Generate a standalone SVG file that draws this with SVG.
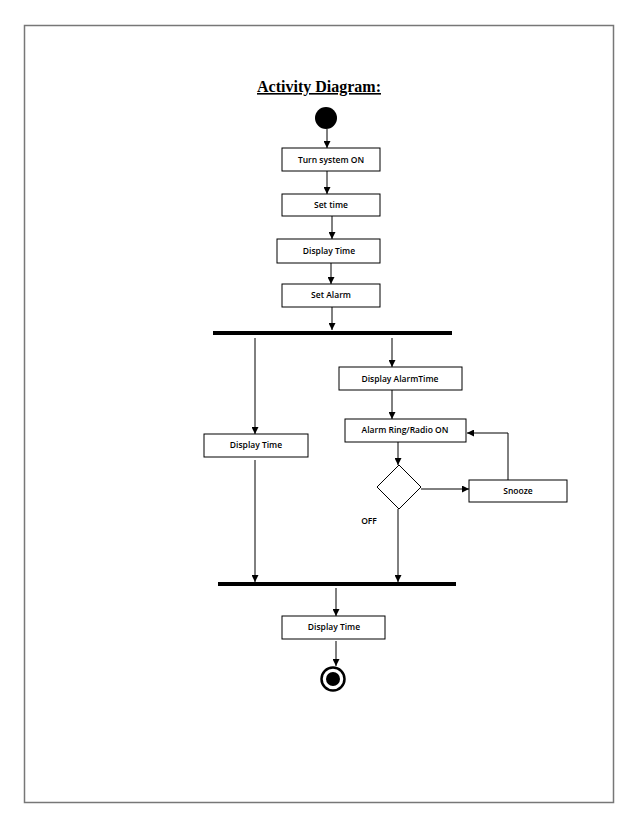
<svg xmlns="http://www.w3.org/2000/svg" width="638" height="826" viewBox="0 0 638 826">
<style>
.n{fill:#fff;stroke:#000;stroke-width:1}
.t{font-family:"Open Sans","Liberation Sans",sans-serif;font-size:8.5px;font-weight:600;text-anchor:middle;fill:#000}
.c{stroke:#000;stroke-width:1;fill:none}
.bar{fill:#000}
</style>
<defs><marker id="a" viewBox="0 0 8 8" refX="8" refY="4" markerWidth="7" markerHeight="7" orient="auto" markerUnits="userSpaceOnUse"><path d="M0,0L8,4L0,8z" fill="#000"/></marker></defs>
<rect x="0" y="0" width="638" height="826" fill="#fff"/>
<rect x="24.5" y="25.5" width="589" height="777" fill="none" stroke="#777" stroke-width="1.5"/>
<text x="319" y="92" font-family="Liberation Serif,serif" font-size="16" font-weight="bold" text-anchor="middle" text-decoration="underline">Activity Diagram:</text>
<g id="start"><circle cx="326" cy="118" r="11" fill="#000"/></g>
<g id="n1"><rect class="n" x="282" y="148" width="98" height="23"/><text class="t" x="331" y="163">Turn system ON</text></g>
<g id="n2"><rect class="n" x="282" y="194" width="98" height="22"/><text class="t" x="331" y="208">Set time</text></g>
<g id="n3"><rect class="n" x="277" y="239" width="103" height="24"/><text class="t" x="329" y="254">Display Time</text></g>
<g id="n4"><rect class="n" x="282" y="284" width="98" height="23"/><text class="t" x="331" y="298">Set Alarm</text></g>
<g id="fork"><rect class="bar" x="213" y="331" width="239" height="4"/></g>
<g id="n5"><rect class="n" x="339" y="367" width="123" height="23"/><text class="t" x="400" y="382">Display AlarmTime</text></g>
<g id="n6"><rect class="n" x="345" y="419" width="121" height="23"/><text class="t" x="405" y="433">Alarm Ring/Radio ON</text></g>
<g id="n7"><rect class="n" x="204" y="434" width="104" height="23"/><text class="t" x="256" y="448">Display Time</text></g>
<g id="dec"><polygon class="n" points="399,465 421,487 399,509 377,487"/></g>
<g id="n8"><rect class="n" x="469" y="480" width="98" height="22"/><text class="t" x="518" y="494">Snooze</text></g>
<text class="t" x="369" y="524">OFF</text>
<g id="join"><rect class="bar" x="218" y="582" width="238" height="4"/></g>
<g id="n9"><rect class="n" x="282" y="616" width="103" height="23"/><text class="t" x="334" y="630">Display Time</text></g>
<g id="end"><circle cx="333" cy="679" r="11.5" fill="#fff" stroke="#000" stroke-width="2.5"/><circle cx="333" cy="679" r="7" fill="#000"/></g>
<g id="connectors" class="c">
<line x1="327" y1="129" x2="327" y2="148" marker-end="url(#a)"/>
<line x1="327" y1="171" x2="327" y2="194" marker-end="url(#a)"/>
<line x1="332" y1="216" x2="332" y2="239" marker-end="url(#a)"/>
<line x1="331" y1="263" x2="331" y2="284" marker-end="url(#a)"/>
<line x1="332" y1="307" x2="332" y2="330" marker-end="url(#a)"/>
<line x1="392" y1="338" x2="392" y2="367" marker-end="url(#a)"/>
<line x1="255" y1="338" x2="255" y2="434" marker-end="url(#a)"/>
<line x1="392" y1="390" x2="392" y2="419" marker-end="url(#a)"/>
<line x1="398" y1="442" x2="398" y2="465" marker-end="url(#a)"/>
<line x1="421" y1="489" x2="469" y2="489" marker-end="url(#a)"/>
<polyline points="508,480 508,433 467,433" marker-end="url(#a)"/>
<line x1="255" y1="460" x2="255" y2="582" marker-end="url(#a)"/>
<line x1="398" y1="509" x2="398" y2="582" marker-end="url(#a)"/>
<line x1="336" y1="588" x2="336" y2="616" marker-end="url(#a)"/>
<line x1="336" y1="641" x2="336" y2="666" marker-end="url(#a)"/>
</g>
</svg>
